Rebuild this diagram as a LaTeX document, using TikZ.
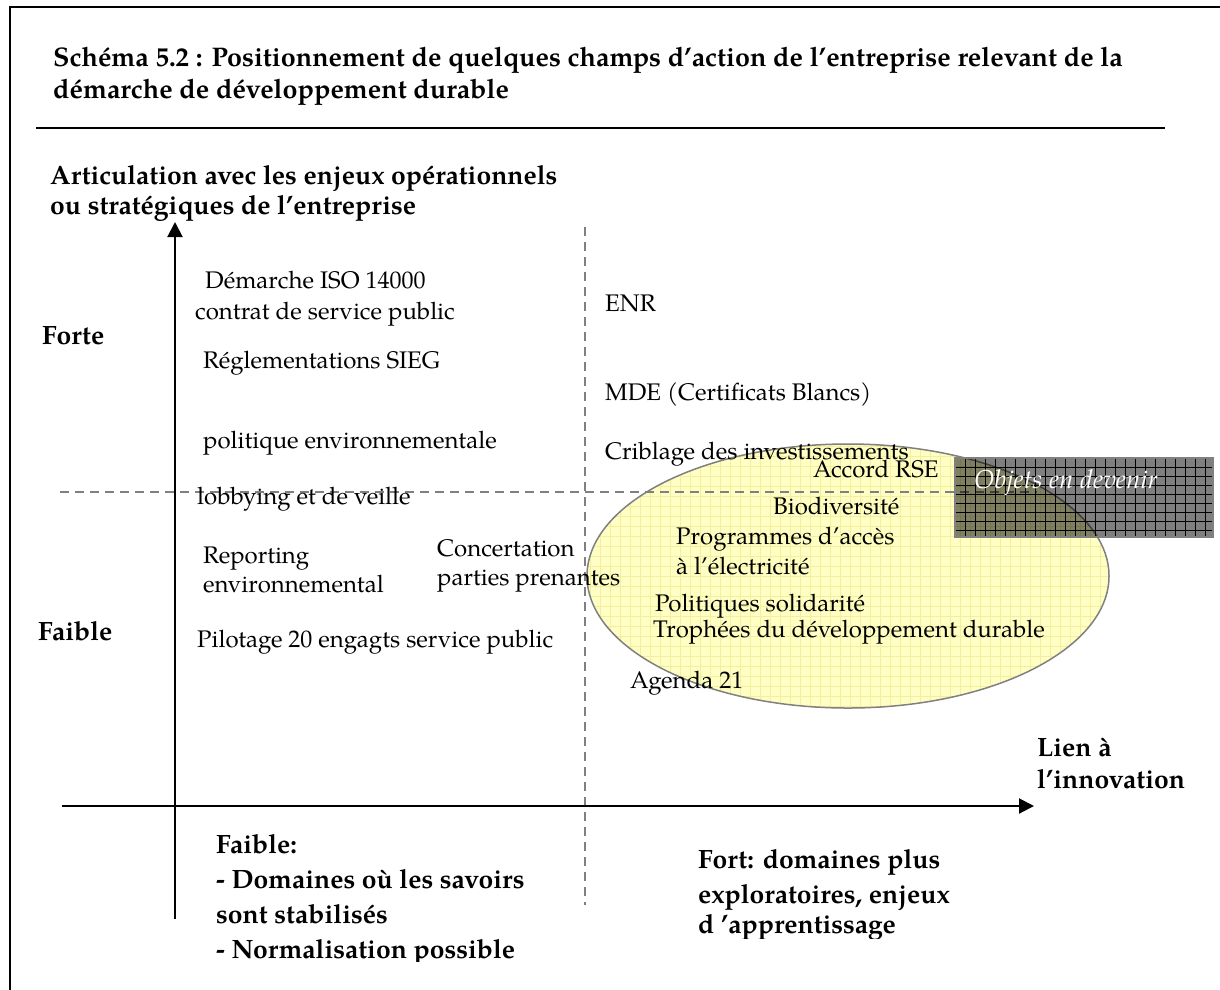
\documentclass[tikz,border=0pt]{standalone}
\usepackage{fontspec}
\setmainfont{TeX Gyre Pagella}
\usetikzlibrary{arrows.meta}
\definecolor{ellfill}{RGB}{255,255,196}
\definecolor{ellgrid}{RGB}{244,238,160}
\definecolor{guidegray}{RGB}{128,128,128}
\tikzset{
  txt/.style={anchor=base west, inner sep=0pt, font=\fontsize{24}{28}\selectfont},
  btxt/.style={anchor=base west, inner sep=0pt, font=\fontsize{26.5}{31}\selectfont\bfseries},
  ttxt/.style={anchor=base west, inner sep=0pt, font=\fontsize{26.9}{31}\selectfont\bfseries},
  axisline/.style={line width=2pt, -{Triangle[length=15pt,width=15pt]}},
  guide/.style={draw=guidegray, line width=1.5pt, dash pattern=on 9pt off 6pt},
}
\begin{document}
\begin{tikzpicture}[x=1pt,y=-1pt]
\useasboundingbox (0,0) rectangle (1220,989);
\fill[white] (0,0) rectangle (1220,989);

% outer frame (open to the right and bottom)
\draw[line width=2pt] (10,995) -- (10,7) -- (1225,7);

% title and rule
\node[ttxt] (title1) at (53,66) {Schéma 5.2 : Positionnement de quelques champs d’action de l’entreprise relevant de la};
\node[ttxt] (title2) at (53,98) {démarche de développement durable};
\draw[line width=2pt] (36,128) -- (1165,128);

% zone of emerging topics
\fill[ellfill] (848,576) ellipse [x radius=261, y radius=132];
\begin{scope}
  \clip (848,576) ellipse [x radius=261, y radius=132];
  \foreach \gx in {590,600,...,1110} \draw[ellgrid, line width=0.6pt] (\gx,440) -- (\gx,712);
  \foreach \gy in {446,456,...,706} \draw[ellgrid, line width=0.6pt] (585,\gy) -- (1112,\gy);
\end{scope}
\draw[guidegray, line width=1.5pt] (848,576) ellipse [x radius=261, y radius=132];

% quadrant separators
\coordinate (vtop) at (585,227);
\coordinate (vbot) at (585,905);
\coordinate (hleft) at (60,492);
\coordinate (hright) at (1037,492);
\draw[guide] (vtop) -- (vbot);
\draw[guide] (hleft) -- (hright);

% hatched box
\fill[black, fill opacity=0.5] (955,458) rectangle (1213,537);
\foreach \gx in {965,975,...,1205} \draw[black, line width=0.8pt] (\gx,458) -- (\gx,537);
\foreach \gy in {467,476,...,530} \draw[black, line width=0.8pt] (955,\gy) -- (1213,\gy);
\draw[guidegray, line width=2pt] (955,458) rectangle (1213,537);
\node[txt, text=white, font=\fontsize{26}{30}\selectfont\itshape] (objets) at (974,488) {Objets en devenir};

% axes
\coordinate (yorig) at (175,919);
\coordinate (ytip) at (175,222);
\coordinate (xorig) at (62,806);
\coordinate (xtip) at (1034,806);
\draw[axisline] (yorig) -- (ytip);
\draw[axisline] (xorig) -- (xtip);

% axis titles
\node[btxt] (yt1) at (50,184) {Articulation avec les enjeux opérationnels};
\node[btxt] (yt2) at (50,214) {ou stratégiques de l’entreprise};
\node[btxt] (forte) at (42,344) {Forte};
\node[btxt] (faible) at (38,640) {Faible};
\node[btxt] (xt1) at (1037,756) {Lien à};
\node[btxt] (xt2) at (1037,788) {l’innovation};

% left quadrant items
\node[txt] (iso) at (205,288) {Démarche ISO 14000};
\node[txt] (contrat) at (195,319) {contrat de service public};
\node[txt] (sieg) at (203,368) {Réglementations SIEG};
\node[txt] (polenv) at (203,448) {politique environnementale};
\node[txt] (lobby) at (197,504) {lobbying et de veille};
\node[txt] (report1) at (203,563) {Reporting};
\node[txt] (report2) at (203,592) {environnemental};
\node[txt] (concert1) at (437,556) {Concertation};
\node[txt] (concert2) at (437,585) {parties prenantes};
\node[txt] (pilot) at (197,647) {Pilotage 20 engagts service public};

% right quadrant items
\node[txt] (enr) at (605,311) {ENR};
\node[txt] (mde) at (605,400) {MDE (Certificats Blancs)};
\node[txt] (crib) at (605,459) {Criblage des investissements};
\node[txt] (rse) at (813,477) {Accord RSE};
\node[txt] (bio) at (773,514) {Biodiversité};
\node[txt] (prog1) at (676,544) {Programmes d’accès};
\node[txt] (prog2) at (676,574) {à l’électricité};
\node[txt] (solid) at (655,611) {Politiques solidarité};
\node[txt] (troph) at (653,637) {Trophées du développement durable};
\node[txt] (agenda) at (630,688) {Agenda 21};

% captions below the horizontal axis
\begin{scope}
  \clip (200,820) rectangle (580,961);
  \node[btxt] (lowa) at (216,853) {Faible:};
  \node[btxt] (lowb) at (216,888) {- Domaines où les savoirs};
  \node[btxt] (lowc) at (216,923) {sont stabilisés};
  \node[btxt] (lowd) at (216,958) {- Normalisation possible};
\end{scope}
\begin{scope}
  \clip (690,830) rectangle (1000,938);
  \node[btxt] (higha) at (698,868) {Fort: domaines plus};
  \node[btxt] (highb) at (698,903) {exploratoires, enjeux};
  \node[btxt] (highc) at (698,933) {d ’apprentissage};
\end{scope}
\end{tikzpicture}
\end{document}
